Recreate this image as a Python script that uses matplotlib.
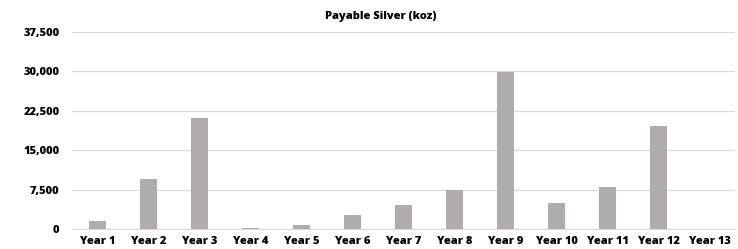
import matplotlib
matplotlib.use('Agg')
import matplotlib.pyplot as plt
from matplotlib.ticker import FuncFormatter

# дані з графіка
years = ['Year 1', 'Year 2', 'Year 3', 'Year 4', 'Year 5', 'Year 6', 'Year 7',
         'Year 8', 'Year 9', 'Year 10', 'Year 11', 'Year 12', 'Year 13']
silver_koz = [1460, 9440, 21140, 250, 700, 2720, 4620, 7400, 29880, 5000, 7900, 19620, 0]
y_ticks = [0, 7500, 15000, 22500, 30000, 37500]

plt.rcParams['font.family'] = ['Open Sans', 'DejaVu Sans']

fig = plt.figure(figsize=(7.38, 2.49), dpi=100)
ax = fig.add_axes([72 / 738, 1 - 229 / 249, 663 / 738, 197 / 249])

x = range(len(years))
ax.bar(x, silver_koz, width=0.33, color='#b0acab', zorder=3)

ax.set_xlim(-0.5, len(years) - 0.5)
ax.set_ylim(0, 37500)
ax.set_yticks(y_ticks)
ax.yaxis.set_major_formatter(FuncFormatter(lambda v, p: f'{int(v):,}'))
ax.set_xticks(list(x))
ax.set_xticklabels(years)

ax.grid(axis='y', color='#d9d9d9', linewidth=0.9, zorder=0)
for s in ['top', 'right', 'left']:
    ax.spines[s].set_visible(False)
ax.spines['bottom'].set_color('#d9d9d9')
ax.spines['bottom'].set_linewidth(0.9)
ax.tick_params(length=0, labelsize=8)
ax.tick_params(axis='x', pad=5)
ax.tick_params(axis='y', pad=9)
for lbl in ax.get_xticklabels() + ax.get_yticklabels():
    lbl.set_fontweight('heavy')

fig.text(381 / 738, 1 - 16 / 249, 'Payable Silver (koz)', ha='center', va='center',
         fontsize=8, fontweight='heavy')

fig.savefig('out.png', dpi=100)
